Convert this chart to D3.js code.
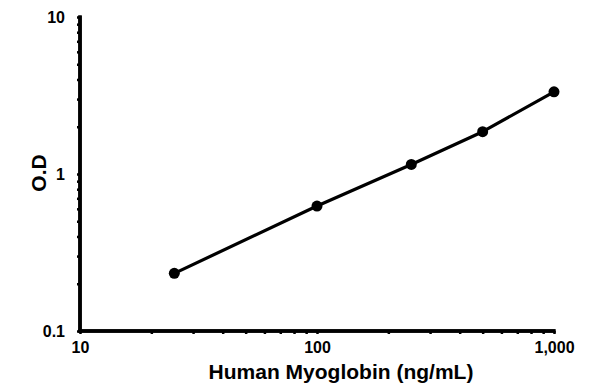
<!DOCTYPE html>
<html><head><meta charset="utf-8">
<script src="https://cdn.jsdelivr.net/npm/d3@7"></script>
<style>body{margin:0;background:#fff}svg{display:block}text{font-family:"Liberation Sans",Arial,sans-serif;font-weight:bold;fill:#000}</style>
</head><body><svg id="c" width="596" height="392"></svg>
<script>
const concentrations = [25, 100, 250, 500, 1000];
const odValues = [0.233, 0.625, 1.15, 1.86, 3.34];
const xTickValues = [10, 100, 1000];
const xTickLabels = ["10", "100", "1,000"];
const yTickValues = [0.1, 1, 10];
const yTickLabels = ["0.1", "1", "10"];
const xTitle = "Human Myoglobin (ng/mL)";
const yTitle = "O.D";

const svg = d3.select("#c");
const x = d3.scaleLog().domain([10, 1000]).range([80, 554]);
const y = d3.scaleLog().domain([0.1, 10]).range([331, 17]);

// minor ticks
const xMinor = [], yMinor = [];
for (let d = 10; d < 1000; d *= 10) for (let k = 2; k <= 9; k++) xMinor.push(d * k);
for (let d = 0.1; d < 9; d *= 10) for (let k = 2; k <= 9; k++) yMinor.push(+(d * k).toPrecision(3));

const gx = svg.append("g").attr("transform", "translate(0,331)");
gx.call(d3.axisBottom(x).tickValues(xMinor).tickSize(3).tickFormat(""));
gx.append("g").call(d3.axisBottom(x).tickValues(xTickValues).tickSize(3).tickPadding(8)
  .tickFormat((d, i) => xTickLabels[i]));
gx.selectAll(".domain").attr("stroke", "#000").attr("stroke-width", 3.5).attr("d", "M78.5,0H555.5");
gx.selectAll(".tick line").attr("stroke", "#000").attr("stroke-width", 2.5);
gx.selectAll("text").style("font-size", "16px");

const gy = svg.append("g").attr("transform", "translate(80,0)");
gy.call(d3.axisLeft(y).tickValues(yMinor).tickSize(3).tickFormat(""));
gy.append("g").call(d3.axisLeft(y).tickValues(yTickValues).tickSize(3).tickPadding(12)
  .tickFormat((d, i) => yTickLabels[i]));
gy.selectAll(".domain").attr("stroke", "#000").attr("stroke-width", 3.5).attr("d", "M0,15.5V332.5");
gy.selectAll(".tick line").attr("stroke", "#000").attr("stroke-width", 2.5);
gy.selectAll("text").style("font-size", "16px");

svg.append("path").datum(concentrations.map((c, i) => [c, odValues[i]]))
  .attr("fill", "none").attr("stroke", "#000").attr("stroke-width", 3.2).attr("stroke-linejoin", "round")
  .attr("d", d3.line().x(d => x(d[0])).y(d => y(d[1])));
svg.selectAll("circle.pt").data(concentrations).join("circle").attr("class", "pt")
  .attr("cx", d => x(d)).attr("cy", (d, i) => y(odValues[i])).attr("r", 5.5).attr("fill", "#000");

svg.append("text").attr("x", 341).attr("y", 379).attr("text-anchor", "middle").style("font-size", "21px").text(xTitle);
svg.append("text").attr("transform", "translate(46,173) rotate(-90)").attr("text-anchor", "middle").style("font-size", "21px").text(yTitle);
</script></body></html>
